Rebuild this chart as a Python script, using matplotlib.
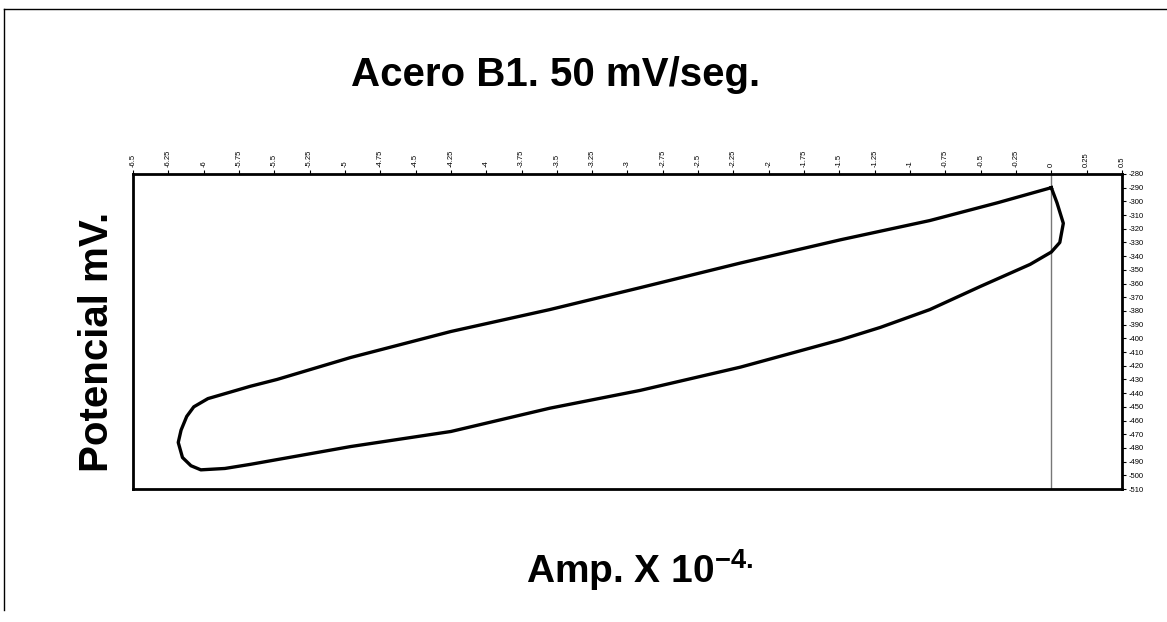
import matplotlib
matplotlib.use("Agg")
import matplotlib.pyplot as plt
import numpy as np
from matplotlib.lines import Line2D

plt.rcParams['font.family'] = ['Liberation Sans', 'DejaVu Sans']
plt.rcParams['mathtext.fontset'] = 'custom'
plt.rcParams['mathtext.bf'] = 'Liberation Sans:bold'
plt.rcParams['mathtext.rm'] = 'Liberation Sans'

# Datos (corriente x 1e-4, potencial mV), ciclo completo
amp = [0.0, -0.38, -0.86, -1.49, -2.20, -2.91, -3.55, -4.25, -4.96, -5.48, -5.67,
       -5.97, -6.07, -6.12, -6.16, -6.18, -6.15, -6.09, -6.02, -5.85, -5.67,
       -4.96, -4.25, -3.55, -2.91, -2.20, -1.49, -1.21, -0.86, -0.50, -0.15,
       0.0, 0.06, 0.085, 0.04, 0.0]
pot = [-290, -301, -314, -328, -345, -363, -379, -395, -414, -430, -435,
       -444, -450, -457, -467, -476, -487, -493, -496, -495, -492,
       -479, -468, -451, -438, -421, -401, -392, -379, -362, -346,
       -337, -330, -316, -301, -290]

x_ticks = np.arange(-6.5, 0.51, 0.25)
y_ticks = np.arange(-280, -511, -10)

fig = plt.figure(figsize=(11.67, 6.22), dpi=100)
ax = fig.add_axes([0.114, 0.2138, 0.8474, 0.5065])

ax.axvline(0, color='#777777', lw=1)
ax.plot(amp, pot, color='black', lw=2.4)

ax.set_xlim(-6.5, 0.5)
ax.set_ylim(-510, -280)
ax.xaxis.tick_top()
ax.yaxis.tick_right()
ax.set_xticks(x_ticks)
ax.set_xticklabels([f"{v:g}" for v in x_ticks], rotation=90, fontsize=5.5)
ax.set_yticks(y_ticks)
ax.set_yticklabels([f"{v:g}" for v in y_ticks], fontsize=5.5)
ax.tick_params(direction='out', length=3, width=0.8, pad=2)
for s in ax.spines.values():
    s.set_linewidth(2)

fig.text(0.476, 0.88, "Acero B1. 50 mV/seg.", ha='center', va='center',
         fontsize=29, fontweight='bold')
fig.text(0.083, 0.45, "Potencial mV.", ha='center', va='center', rotation=90,
         fontsize=29, fontweight='bold')
fig.text(0.548, 0.083, r"Amp. X 10$^{\mathbf{-4.}}$", ha='center', va='center',
         fontsize=28, fontweight='bold')

# marco exterior (arriba e izquierda)
fig.add_artist(Line2D([0.003, 1.0], [0.985, 0.985], color='black', lw=1))
fig.add_artist(Line2D([0.003, 0.003], [0.985, 0.02], color='black', lw=1))

fig.savefig("out.png", dpi=100)
